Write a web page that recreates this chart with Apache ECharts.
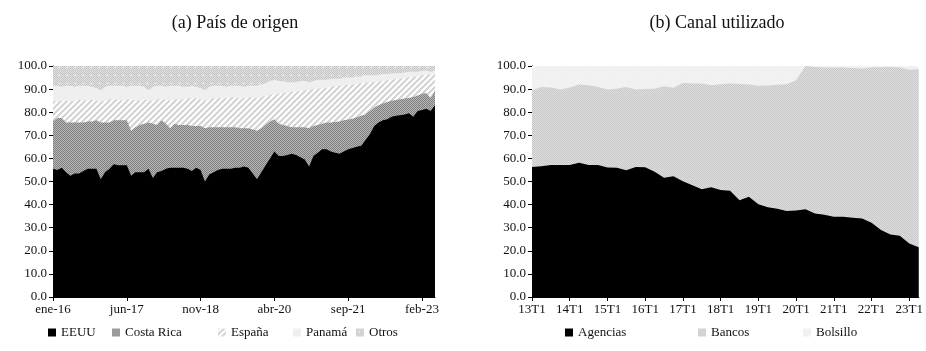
<!DOCTYPE html>
<html>
<head>
<meta charset="utf-8">
<script src="https://cdn.jsdelivr.net/npm/echarts@6/dist/echarts.min.js"></script>
<style>
html, body { margin: 0; padding: 0; background: #fff; }
#chart { width: 926px; height: 351px; }
</style>
</head>
<body>
<div id="chart"></div>
<script>
// (a) País de origen: mensual, ene-16 a may-23 (niveles acumulados, %)
var meses = ['ene', 'feb', 'mar', 'abr', 'may', 'jun', 'jul', 'ago', 'sep', 'oct', 'nov', 'dic'];
var categoriasA = [];
for (var i = 0; i < 89; i++) {
	categoriasA.push(meses[i % 12] + '-' + (16 + Math.floor(i / 12)));
}

var eeuu = [
	55.5, 55, 56, 54, 52.5, 53.5, 53.5, 54.5, 55.5, 55.5,
	55.5, 51, 54, 55.5, 57.5, 57, 57, 57, 52.5, 54,
	54, 54, 55.5, 51.5, 54, 54.5, 55.5, 56, 56, 56,
	56, 55.5, 54.5, 56, 55, 50, 53, 54, 55, 55.5,
	55.5, 55.5, 56, 56, 56.5, 56, 53.5, 51, 54, 57,
	60, 63, 61, 61, 61.5, 62, 61.5, 60.5, 59.5, 56.5,
	61, 62.5, 64, 64, 63, 62.5, 62, 63, 64, 64.5,
	65, 65.5, 68, 70.5, 74, 75.5, 76.5, 77, 78, 78.5,
	78.7, 79, 79.5, 78, 80.5, 81, 81.5, 80.5, 83
];
// EEUU + Costa Rica
var topeCostaRica = [
	76, 77.5, 77.5, 75.5, 75.5, 75.5, 75.5, 75.5, 76, 76,
	76.5, 75.5, 75.5, 75.5, 76.5, 76.5, 76.5, 76.5, 72, 73.5,
	74.5, 75, 75.5, 75, 74.5, 76.5, 75, 73, 75, 74.5,
	74.5, 74.5, 74, 74, 74, 73, 73.5, 73.5, 73.5, 73.5,
	73.5, 73.5, 73.5, 73, 73, 73, 72.5, 72, 73, 74.5,
	76, 77, 75, 74.5, 74, 73.5, 73.5, 73.5, 73.5, 73,
	74, 74.5, 75, 75.5, 75.5, 75.8, 76, 76.5, 76.8, 77.2,
	77.8, 78.5, 79, 80.5, 82, 83, 83.8, 84.4, 85, 85.3,
	85.6, 85.9, 86.2, 86.6, 87.2, 88, 88.2, 86, 89.5
];
// ... + España
var topeEspana = [
	85, 84.5, 85, 85, 84.5, 85, 85.5, 85, 85, 85.5,
	85, 84.5, 85, 85.5, 85.5, 85.5, 85, 85.5, 85.5, 85,
	85, 85.5, 85, 85, 85.5, 85.5, 85.5, 85, 85.5, 85.5,
	85.5, 86, 86, 86, 85.5, 85, 85.5, 86, 86, 86,
	86, 86.5, 86.5, 86, 86, 86.5, 86.5, 86, 86.5, 87,
	87.5, 88, 88, 88.3, 88.5, 88.8, 89, 89, 89.5, 89.5,
	90, 90.2, 90.5, 90.5, 91, 91.2, 91.5, 91.5, 91.9, 92,
	92.3, 92.5, 92.7, 93, 93.1, 93.3, 93.5, 93.8, 94, 94.3,
	94.5, 94.8, 95, 95.3, 95.6, 96, 96.2, 96.3, 96.7
];
// ... + Panamá
var topePanama = [
	91.5, 91.5, 91, 91.5, 91.5, 91, 91.5, 91.5, 91.5, 91,
	90.5, 89.5, 91, 91.5, 91.5, 91.5, 91.5, 91, 91.5, 91.5,
	91.5, 91, 89.5, 91, 91.5, 91.5, 91, 91.5, 91.5, 91.5,
	91, 91, 91.5, 91, 90.5, 89.5, 91, 91.5, 91.5, 91.5,
	91, 91.5, 91.5, 91.5, 91, 91.5, 91.5, 91.5, 92, 92.5,
	93.5, 94, 93.5, 93.5, 93, 93, 93, 93.5, 93.5, 93,
	93.5, 94, 94, 94, 94.5, 94.5, 94.5, 95, 95, 95,
	95.5, 95.5, 96, 96, 96, 96.2, 96.5, 96.5, 96.8, 97,
	97, 97.2, 97.5, 97.5, 97.5, 97.8, 98, 97.5, 98
];
// ... + Otros = 100
var topeOtros = new Array(89).fill(100);

// (b) Canal utilizado: trimestral, 13T1 a 23T2
var categoriasB = [];
for (var a = 13; a <= 23; a++) {
	for (var t = 1; t <= 4; t++) {
		if (a === 23 && t > 2) break;
		categoriasB.push(a + 'T' + t);
	}
}
var agencias = [
	56.3, 56.6, 57.1, 57.1, 57.1, 58.1, 57.1, 57.1, 56.1, 56,
	54.9, 56.3, 56.2, 54.2, 51.6, 52.3, 50.1, 48.4, 46.6, 47.5,
	46.3, 46, 41.9, 43.4, 40.1, 38.8, 38.2, 37.2, 37.5, 38,
	36.2, 35.6, 34.7, 34.7, 34.3, 34, 32.1, 29, 27.1, 26.5,
	23.2, 21.5
];
// Agencias + Bancos
var topeBancos = [
	89.5, 90.9, 90.7, 89.8, 90.7, 92, 91.7, 90.9, 89.8, 90.2,
	90.9, 89.8, 90, 90.2, 91.2, 90.6, 92.6, 92.4, 92.4, 91.7,
	92.1, 92.4, 92.2, 92, 91.4, 91.6, 91.9, 92.1, 93.8, 100,
	99.6, 99.3, 99.3, 99.3, 99.1, 98.9, 99.3, 99.5, 99.6, 99.4,
	98.4, 98.6
];
var topeBolsillo = new Array(42).fill(100);

var fuente = 'Liberation Serif';

// tramas de relleno
function trama(w, h, dibujar) {
	var c = document.createElement('canvas');
	c.width = w;
	c.height = h;
	dibujar(c.getContext('2d'));
	return { image: c, repeat: 'repeat' };
}
var trCostaRica = trama(2, 2, function(ctx) {
	ctx.fillStyle = '#b8b8b8';
	ctx.fillRect(0, 0, 2, 2);
	ctx.fillStyle = '#7e7e7e';
	ctx.fillRect(0, 0, 1, 1);
	ctx.fillRect(1, 1, 1, 1);
});
var trEspana = trama(6, 6, function(ctx) {
	ctx.fillStyle = '#ffffff';
	ctx.fillRect(0, 0, 6, 6);
	ctx.strokeStyle = '#d2d2d2';
	ctx.lineWidth = 2;
	ctx.beginPath();
	ctx.moveTo(-1, 7); ctx.lineTo(7, -1);
	ctx.moveTo(-4, 4); ctx.lineTo(4, -4);
	ctx.moveTo(2, 10); ctx.lineTo(10, 2);
	ctx.stroke();
});
var colPanama = '#efefef';
var trOtros = trama(8, 8, function(ctx) {
	ctx.fillStyle = '#e2e2e2';
	ctx.fillRect(0, 0, 8, 8);
	ctx.fillStyle = '#c4c4c4';
	for (var y = 0; y < 8; y++) {
		for (var x = (y % 2); x < 8; x += 2) ctx.fillRect(x, y, 1, 1);
	}
	ctx.fillStyle = '#ffffff';
	ctx.fillRect(3, 3, 1, 1);
});
var trBancos = trama(2, 2, function(ctx) {
	ctx.fillStyle = '#dedede';
	ctx.fillRect(0, 0, 2, 2);
	ctx.fillStyle = '#c8c8c8';
	ctx.fillRect(0, 0, 1, 1);
	ctx.fillRect(1, 1, 1, 1);
});
var trBolsillo = trama(12, 12, function(ctx) {
	ctx.fillStyle = '#f1f1f1';
	ctx.fillRect(0, 0, 12, 12);
	ctx.fillStyle = '#ffffff';
	ctx.fillRect(6, 6, 1, 1);
});

function area(nombre, datos, color, eje) {
	return {
		name: nombre,
		type: 'line',
		xAxisIndex: eje,
		yAxisIndex: eje,
		data: datos,
		symbol: 'none',
		lineStyle: { width: 0 },
		itemStyle: { color: color },
		areaStyle: { color: color, opacity: 1 },
		silent: true
	};
}

function ejeX(grid, datos, intervalo) {
	return {
		type: 'category',
		gridIndex: grid,
		data: datos,
		boundaryGap: false,
		axisLine: { lineStyle: { color: '#000', width: 1 } },
		axisTick: { interval: intervalo, length: 4, lineStyle: { color: '#000' } },
		axisLabel: { interval: intervalo, fontFamily: fuente, fontSize: 13, color: '#111', margin: 6 },
		splitLine: { show: false }
	};
}
function ejeY(grid) {
	return {
		type: 'value',
		gridIndex: grid,
		min: 0,
		max: 100,
		interval: 10,
		axisLine: { show: true, lineStyle: { color: '#000', width: 1 } },
		axisTick: { show: true, length: 4, lineStyle: { color: '#000' } },
		axisLabel: {
			fontFamily: fuente, fontSize: 13, color: '#111', margin: 6,
			formatter: function(v) { return v.toFixed(1); }
		},
		splitLine: { show: false }
	};
}
function leyenda(nombre, color, x) {
	return {
		data: [{ name: nombre, itemStyle: { color: color } }],
		left: x,
		top: 326,
		padding: 0,
		icon: 'rect',
		itemWidth: 8,
		itemHeight: 8,
		selectedMode: false,
		textStyle: { fontFamily: fuente, fontSize: 13, color: '#111' }
	};
}

var myChart = echarts.init(document.getElementById('chart'));

var option = {
	backgroundColor: '#fff',
	animation: false,
	title: [{
		text: '(a) País de origen',
		left: 230,
		top: 9,
		textAlign: 'center',
		textStyle: { fontFamily: fuente, fontSize: 18, fontWeight: 'normal', color: '#111' }
	}, {
		text: '(b) Canal utilizado',
		left: 712,
		top: 9,
		textAlign: 'center',
		textStyle: { fontFamily: fuente, fontSize: 18, fontWeight: 'normal', color: '#111' }
	}],
	legend: [
		leyenda('EEUU', '#000', 48),
		leyenda('Costa Rica', trCostaRica, 112),
		leyenda('España', trEspana, 218),
		leyenda('Panamá', colPanama, 293),
		leyenda('Otros', trOtros, 356),
		leyenda('Agencias', '#000', 565),
		leyenda('Bancos', trBancos, 698),
		leyenda('Bolsillo', trBolsillo, 803)
	],
	grid: [
		{ left: 53, right: 491, top: 66, bottom: 54 },
		{ left: 532, right: 6, top: 66, bottom: 54 }
	],
	xAxis: [ejeX(0, categoriasA, 16), ejeX(1, categoriasB, 3)],
	yAxis: [ejeY(0), ejeY(1)],
	series: [
		area('Otros', topeOtros, trOtros, 0),
		area('Panamá', topePanama, colPanama, 0),
		area('España', topeEspana, trEspana, 0),
		area('Costa Rica', topeCostaRica, trCostaRica, 0),
		area('EEUU', eeuu, '#000', 0),
		area('Bolsillo', topeBolsillo, trBolsillo, 1),
		area('Bancos', topeBancos, trBancos, 1),
		area('Agencias', agencias, '#000', 1)
	]
};

myChart.setOption(option);
</script>
</body>
</html>
